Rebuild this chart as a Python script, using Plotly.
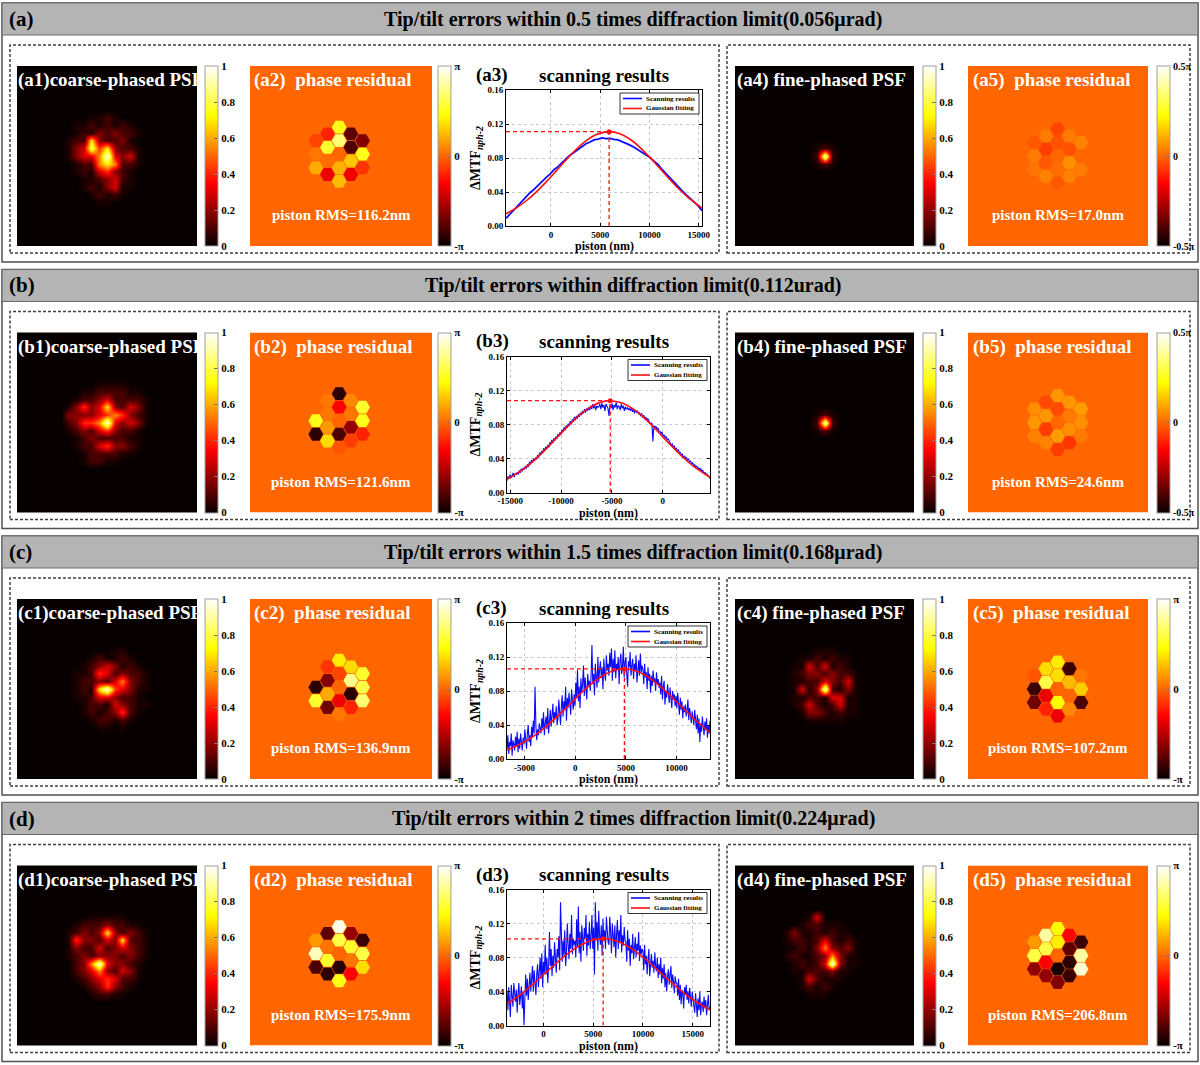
import numpy as np
import plotly.graph_objects as go
from plotly.colors import sample_colorscale

W, H = 1200, 1065
SERIF = "Liberation Serif"
HOT = [[0.0, "rgb(6,0,0)"], [0.35, "rgb(255,0,0)"], [0.725, "rgb(255,255,0)"], [1.0, "rgb(255,255,255)"]]

# ---------------- text data ----------------
row_letters = ["a", "b", "c", "d"]
row_titles = [
    "Tip/tilt errors within 0.5 times diffraction limit(0.056\u03bcrad)",
    "Tip/tilt errors within diffraction limit(0.112urad)",
    "Tip/tilt errors within 1.5 times diffraction limit(0.168\u03bcrad)",
    "Tip/tilt errors within 2 times diffraction limit(0.224\u03bcrad)",
]
rms_coarse = ["116.2", "121.6", "136.9", "175.9"]
rms_fine = ["17.0", "24.6", "107.2", "206.8"]
coarse_phase_limit = [1.0, 1.0, 1.0, 1.0]   # units of pi
fine_phase_limit = [0.5, 0.5, 1.0, 1.0]     # units of pi
psf_ticks = [0, 0.2, 0.4, 0.6, 0.8, 1]
psf_tick_text = ["0", "0.2", "0.4", "0.6", "0.8", "1"]
legend_names = ["Scanning results", "Gaussian fitting"]

# ---------------- segment layout (18 hexagonal segments) ----------------
seg_col = [-2, -2, -2, -1, -1, -1, -1, 0, 0, 0, 0, 1, 1, 1, 1, 2, 2, 2]
seg_row = [-1, 0, 1, -1.5, -0.5, 0.5, 1.5, -2, -1, 1, 2, -1.5, -0.5, 0.5, 1.5, -1, 0, 1]

# phase residual per segment (units of pi)
phase_a2 = [-0.10, 0.05, 0.20, -0.20, 0.55, 0.02, -0.35, 0.50, 0.70, 0.22, 0.25, -0.75, -0.80, 0.28, -0.35, -0.65, 0.50, -0.15]
phase_a5 = [-0.02, 0.03, 0.02, 0.03, -0.06, -0.02, 0.04, -0.05, -0.03, 0.01, -0.02, 0.03, -0.03, 0.06, 0.04, 0.04, 0.00, 0.03]
phase_b2 = [0.00, 0.50, -0.90, 0.05, 0.05, 0.15, 0.35, -0.90, -0.30, -0.80, -0.05, 0.10, 0.05, -0.60, -0.12, 0.55, 0.50, -0.20]
phase_b5 = [0.06, 0.07, 0.04, -0.04, 0.07, -0.06, 0.04, 0.07, -0.04, 0.08, -0.06, 0.07, 0.03, 0.06, -0.07, 0.08, 0.06, 0.03]
phase_c2 = [0.00, -0.90, 0.55, -0.15, -0.65, 0.20, -0.70, 0.40, -0.10, -0.35, 0.05, 0.35, 0.75, -0.90, -0.20, 0.55, 0.60, 0.70]
phase_c5 = [-0.05, -0.85, -0.70, 0.35, 0.60, -0.35, -0.20, 0.40, 0.35, 0.45, -0.35, -0.85, 0.25, 0.00, 0.10, 0.05, 0.30, -0.80]
phase_d2 = [0.15, 0.85, -0.80, -0.75, 0.05, 0.55, -0.90, 0.95, 0.60, -0.90, 0.50, -0.60, 0.55, 0.05, -0.30, -0.85, 0.60, 0.35]
phase_d5 = [0.15, 0.60, -0.60, 0.80, 0.60, -0.30, -0.60, 0.45, 0.40, -0.95, -0.65, -0.30, -0.75, -0.90, -0.85, -0.85, 0.80, 0.90]
phase_coarse = [phase_a2, phase_b2, phase_c2, phase_d2]
phase_fine = [phase_a5, phase_b5, phase_c5, phase_d5]

# ---------------- PSF intensity read on a coarse grid (digit = level index) ----------------
psf_levels = [0.0, 0.03, 0.09, 0.18, 0.30, 0.42, 0.55, 0.70, 0.85, 1.0]
Z15 = "000000000000000"
psf_a1 = [Z15, Z15, "000001121000000", "000112121210000", "000121323221000", "001227322310000",
          "001348573221000", "001344694341000", "000122676221000", "000121453210000", "000011234210000",
          "000012134110000", "000001212100000", "000000110000000", Z15]
psf_a4 = [Z15, Z15, Z15, Z15, Z15, Z15, "000000121000000", "000000292000000", "000000121000000",
          Z15, Z15, Z15, Z15, Z15, Z15]
psf_b1 = [Z15, Z15, "000000111100000", "000011222211000", "000122342222100", "001353473243100",
          "003333456532100", "002355694343100", "001232453221000", "000123222211000", "000122453321000",
          "000012222110000", "000012211000000", Z15, Z15]
psf_b4 = [Z15, Z15, Z15, Z15, Z15, Z15, "000000121000000", "000000292000000", "000000121000000",
          Z15, Z15, Z15, Z15, Z15, Z15]
psf_c1 = [Z15, Z15, "000000001100000", "000001211210000", "000012343121000", "000112542322100",
          "000122324632100", "000121795431100", "000112443221000", "000012214321100", "000012123521000",
          "000001221210000", "000000110100000", Z15, Z15]
psf_c4 = [Z15, Z15, "000000111000000", "000011212110000", "000114241210000", "000123323221000",
          "000112243241000", "000141392131000", "000112214411000", "000124212411000", "000013321211000",
          "000001111100000", Z15, Z15, Z15]
psf_d1 = [Z15, Z15, "000001111100000", "000122232211000", "001232373232100", "001533243722100",
          "001322423432100", "001232333232100", "000236943321000", "000234632431000", "000123454221000",
          "000012353210000", "000001221100000", Z15, Z15]
psf_d4 = [Z15, Z15, "000001400000000", "000012211100000", "001311212110000", "001221242121000",
          "000121363231000", "001211236311000", "000121249311000", "000112223110000", "000014211100000",
          "000012121000000", "000001110000000", Z15, Z15]
psf_coarse = [psf_a1, psf_b1, psf_c1, psf_d1]
psf_fine = [psf_a4, psf_b4, psf_c4, psf_d4]

# ---------------- scanning results ----------------
scan_start = [-4560, -15320, -6720, -3660]
scan_end = [15340, 4640, 13290, 16740]
xtick_vals = [[0, 5000, 10000, 15000], [-15000, -10000, -5000, 0], [-5000, 0, 5000, 10000], [0, 5000, 10000, 15000]]
xtick_text = [["0", "5000", "10000", "15000"], ["-15000", "-10000", "-5000", "0"],
              ["-5000", "0", "5000", "10000"], ["0", "5000", "10000", "15000"]]
ytick_vals = [0, 0.04, 0.08, 0.12, 0.16]

blue_a = [0.0090, 0.0140, 0.0196, 0.0248, 0.0302, 0.0344, 0.0392, 0.0430, 0.0480, 0.0522,
          0.0570, 0.0610, 0.0662, 0.0698, 0.0748, 0.0788, 0.0832, 0.0866, 0.0902, 0.0933,
          0.0967, 0.0988, 0.1012, 0.1022, 0.1037, 0.1028, 0.1030, 0.1020, 0.1012, 0.0993,
          0.0977, 0.0952, 0.0927, 0.0896, 0.0868, 0.0831, 0.0806, 0.0763, 0.0724, 0.0665,
          0.0614, 0.0558, 0.0512, 0.0460, 0.0417, 0.0368, 0.0327, 0.0280, 0.0240, 0.0180]
blue_b = [0.014, 0.019, 0.016, 0.021, 0.017, 0.020, 0.023, 0.018, 0.022, 0.021,
          0.024, 0.021, 0.026, 0.023, 0.028, 0.025, 0.029, 0.027, 0.031, 0.028,
          0.033, 0.030, 0.036, 0.033, 0.038, 0.035, 0.040, 0.037, 0.041, 0.039,
          0.044, 0.041, 0.047, 0.044, 0.049, 0.046, 0.052, 0.049, 0.054, 0.051,
          0.056, 0.053, 0.059, 0.057, 0.062, 0.058, 0.064, 0.061, 0.066, 0.063,
          0.069, 0.066, 0.071, 0.068, 0.074, 0.071, 0.077, 0.073, 0.079, 0.076,
          0.081, 0.078, 0.084, 0.080, 0.086, 0.083, 0.089, 0.085, 0.090, 0.087,
          0.092, 0.089, 0.094, 0.091, 0.096, 0.093, 0.098, 0.094, 0.099, 0.096,
          0.100, 0.097, 0.102, 0.098, 0.104, 0.099, 0.103, 0.097, 0.102, 0.100,
          0.101, 0.104, 0.098, 0.105, 0.100, 0.103, 0.096, 0.104, 0.101, 0.099,
          0.090, 0.104, 0.099, 0.105, 0.097, 0.103, 0.100, 0.106, 0.098, 0.102,
          0.101, 0.097, 0.104, 0.099, 0.102, 0.096, 0.101, 0.098, 0.100, 0.097,
          0.099, 0.096, 0.100, 0.095, 0.098, 0.093, 0.097, 0.094, 0.096, 0.092,
          0.094, 0.090, 0.093, 0.088, 0.091, 0.086, 0.089, 0.085, 0.087, 0.084,
          0.083, 0.080, 0.082, 0.060, 0.079, 0.076, 0.078, 0.074, 0.076, 0.072,
          0.072, 0.069, 0.071, 0.066, 0.068, 0.064, 0.066, 0.062, 0.063, 0.060,
          0.059, 0.056, 0.057, 0.053, 0.055, 0.051, 0.052, 0.049, 0.050, 0.047,
          0.047, 0.044, 0.045, 0.041, 0.043, 0.040, 0.041, 0.038, 0.039, 0.036,
          0.037, 0.034, 0.035, 0.031, 0.033, 0.030, 0.031, 0.028, 0.029, 0.027,
          0.028, 0.025, 0.026, 0.022, 0.024, 0.021, 0.022, 0.019, 0.019, 0.016]
blue_c = [0.012, 0.028, 0.006, 0.020, 0.015, 0.030, 0.004, 0.022, 0.018, 0.010,
          0.026, 0.015, 0.032, 0.008, 0.024, 0.012, 0.030, 0.020, 0.010, 0.025,
          0.018, 0.035, 0.022, 0.012, 0.030, 0.040, 0.020, 0.028, 0.015, 0.038,
          0.025, 0.045, 0.030, 0.085, 0.040, 0.022, 0.035, 0.028, 0.042, 0.032,
          0.030, 0.048, 0.036, 0.055, 0.028, 0.042, 0.050, 0.035, 0.060, 0.030,
          0.045, 0.058, 0.038, 0.052, 0.065, 0.042, 0.055, 0.048, 0.062, 0.040,
          0.048, 0.070, 0.055, 0.040, 0.062, 0.075, 0.050, 0.068, 0.058, 0.085,
          0.045, 0.072, 0.060, 0.078, 0.066, 0.052, 0.082, 0.070, 0.058, 0.076,
          0.062, 0.090, 0.072, 0.105, 0.068, 0.085, 0.060, 0.095, 0.078, 0.088,
          0.110, 0.074, 0.096, 0.082, 0.070, 0.100, 0.086, 0.092, 0.080, 0.098,
          0.134, 0.088, 0.100, 0.075, 0.112, 0.096, 0.084, 0.120, 0.090, 0.105,
          0.115, 0.095, 0.108, 0.082, 0.118, 0.100, 0.092, 0.122, 0.104, 0.112,
          0.098, 0.125, 0.108, 0.130, 0.092, 0.118, 0.102, 0.128, 0.095, 0.112,
          0.106, 0.120, 0.088, 0.115, 0.124, 0.100, 0.110, 0.132, 0.096, 0.114,
          0.120, 0.100, 0.085, 0.115, 0.108, 0.126, 0.098, 0.110, 0.118, 0.094,
          0.112, 0.104, 0.122, 0.090, 0.108, 0.116, 0.098, 0.124, 0.102, 0.110,
          0.105, 0.088, 0.112, 0.096, 0.102, 0.082, 0.108, 0.092, 0.100, 0.078,
          0.098, 0.086, 0.104, 0.090, 0.095, 0.080, 0.102, 0.088, 0.094, 0.084,
          0.090, 0.076, 0.098, 0.070, 0.085, 0.092, 0.064, 0.080, 0.072, 0.088,
          0.078, 0.066, 0.084, 0.072, 0.060, 0.080, 0.070, 0.076, 0.062, 0.074,
          0.060, 0.078, 0.066, 0.052, 0.072, 0.058, 0.068, 0.048, 0.062, 0.055,
          0.064, 0.050, 0.058, 0.070, 0.046, 0.060, 0.052, 0.042, 0.056, 0.048,
          0.040, 0.058, 0.045, 0.035, 0.052, 0.030, 0.048, 0.020, 0.042, 0.032,
          0.050, 0.036, 0.028, 0.044, 0.034, 0.048, 0.025, 0.040, 0.030, 0.045]
blue_d = [0.040, 0.018, 0.045, 0.025, 0.010, 0.048, 0.030, 0.022, 0.050, 0.035,
          0.028, 0.042, 0.015, 0.038, 0.050, 0.024, 0.034, 0.046, 0.020, 0.040,
          0.000, 0.045, 0.060, 0.035, 0.055, 0.030, 0.048, 0.062, 0.040, 0.052,
          0.070, 0.040, 0.065, 0.050, 0.036, 0.060, 0.072, 0.045, 0.058, 0.080,
          0.055, 0.085, 0.045, 0.075, 0.062, 0.095, 0.060, 0.080, 0.050, 0.070,
          0.110, 0.070, 0.090, 0.058, 0.082, 0.068, 0.098, 0.076, 0.062, 0.090,
          0.080, 0.105, 0.065, 0.145, 0.090, 0.075, 0.100, 0.082, 0.112, 0.070,
          0.085, 0.120, 0.095, 0.078, 0.108, 0.090, 0.130, 0.084, 0.102, 0.095,
          0.100, 0.080, 0.125, 0.092, 0.140, 0.085, 0.110, 0.075, 0.118, 0.098,
          0.088, 0.115, 0.102, 0.130, 0.082, 0.108, 0.094, 0.122, 0.090, 0.104,
          0.130, 0.090, 0.115, 0.060, 0.145, 0.100, 0.122, 0.088, 0.135, 0.105,
          0.095, 0.118, 0.082, 0.126, 0.100, 0.112, 0.090, 0.128, 0.104, 0.098,
          0.095, 0.128, 0.110, 0.085, 0.120, 0.100, 0.092, 0.118, 0.080, 0.108,
          0.124, 0.090, 0.112, 0.098, 0.130, 0.086, 0.106, 0.094, 0.116, 0.100,
          0.098, 0.075, 0.112, 0.088, 0.102, 0.070, 0.095, 0.085, 0.108, 0.078,
          0.092, 0.104, 0.080, 0.096, 0.088, 0.110, 0.076, 0.094, 0.084, 0.090,
          0.088, 0.065, 0.095, 0.072, 0.082, 0.060, 0.078, 0.090, 0.058, 0.075,
          0.084, 0.068, 0.076, 0.062, 0.086, 0.070, 0.064, 0.080, 0.056, 0.072,
          0.060, 0.080, 0.050, 0.068, 0.055, 0.072, 0.045, 0.062, 0.040, 0.058,
          0.066, 0.048, 0.056, 0.070, 0.044, 0.060, 0.052, 0.038, 0.058, 0.050,
          0.050, 0.035, 0.055, 0.030, 0.048, 0.025, 0.042, 0.038, 0.020, 0.045,
          0.036, 0.048, 0.030, 0.040, 0.026, 0.044, 0.034, 0.022, 0.040, 0.032,
          0.030, 0.015, 0.038, 0.022, 0.010, 0.032, 0.018, 0.040, 0.012, 0.025,
          0.028, 0.016, 0.034, 0.020, 0.030, 0.012, 0.026, 0.036, 0.018, 0.022]
blue_all = [blue_a, blue_b, blue_c, blue_d]

fit_x_a = [-4560, -3500, -2500, -1500, -500, 500, 1500, 2500, 3500, 4500, 5910, 7000, 8000, 9000, 10000, 11000, 12000, 13000, 14000, 15340]
fit_y_a = [0.0144, 0.0213, 0.0297, 0.0399, 0.0516, 0.0643, 0.0773, 0.0894, 0.0996, 0.1070, 0.1110, 0.1086, 0.1023, 0.0929, 0.0813, 0.0685, 0.0556, 0.0435, 0.0328, 0.0212]
fit_x_b = [-15320, -14000, -13000, -12000, -11000, -10000, -9000, -8000, -7000, -6000, -5170, -4000, -3000, -2000, -1000, 0, 1000, 2000, 3000, 4640]
fit_y_b = [0.0157, 0.0251, 0.0343, 0.0451, 0.0572, 0.0698, 0.0821, 0.0930, 0.1014, 0.1066, 0.1080, 0.1053, 0.0989, 0.0895, 0.0780, 0.0655, 0.0530, 0.0413, 0.0310, 0.0179]
fit_x_c = [-6720, -6000, -5000, -4000, -3000, -2000, -1000, 0, 1000, 2000, 3000, 4000, 4850, 6000, 7000, 8000, 9000, 10000, 11000, 12000, 13290]
fit_y_c = [0.0107, 0.0141, 0.0201, 0.0277, 0.0368, 0.0474, 0.0589, 0.0708, 0.0822, 0.0922, 0.1000, 0.1047, 0.1060, 0.1036, 0.0979, 0.0894, 0.0789, 0.0673, 0.0554, 0.0441, 0.0312]
fit_x_d = [-3660, -3000, -2000, -1000, 0, 1000, 2000, 3000, 4000, 5000, 6000, 7000, 8000, 9000, 10000, 11000, 12000, 13000, 14000, 15000, 16740]
fit_y_d = [0.0255, 0.0306, 0.0394, 0.0492, 0.0597, 0.0703, 0.0804, 0.0892, 0.0961, 0.1005, 0.1020, 0.1005, 0.0961, 0.0892, 0.0804, 0.0703, 0.0597, 0.0492, 0.0394, 0.0306, 0.0184]
fit_x_all = [fit_x_a, fit_x_b, fit_x_c, fit_x_d]
fit_y_all = [fit_y_a, fit_y_b, fit_y_c, fit_y_d]
peak_x = [5910, -5170, 4850, 6000]
peak_y = [0.111, 0.108, 0.106, 0.102]

BLUE, RED = "#0a0aff", "#ff1010"

# ---------------- helpers ----------------
fig = go.Figure()
layout_axes = {}
shapes = []
annotations = []
ax_count = [0]


def P(x):
    return x / W


def Q(y):
    return 1 - y / H


def add_axes(x0, x1, y0, y1, xcfg=None, ycfg=None):
    ax_count[0] += 1
    n = ax_count[0]
    s = "" if n == 1 else str(n)
    base = dict(showgrid=False, zeroline=False, showticklabels=False, ticks="",
                fixedrange=True, automargin=False)
    xc = dict(base, domain=[P(x0), P(x1)], anchor="y" + s)
    yc = dict(base, domain=[Q(y1), Q(y0)], anchor="x" + s)
    if xcfg:
        xc.update(xcfg)
    if ycfg:
        yc.update(ycfg)
    layout_axes["xaxis" + s] = xc
    layout_axes["yaxis" + s] = yc
    return "x" + s, "y" + s


def colorbar(xleft, ycenter, tickvals, ticktext, size=11):
    return dict(x=P(xleft), xanchor="left", y=Q(ycenter), yanchor="middle",
                len=180, lenmode="pixels", thickness=13, thicknessmode="pixels",
                xpad=0, ypad=0, outlinewidth=1, outlinecolor="#a0a0a0",
                tickvals=tickvals, ticktext=ticktext, ticks="inside", ticklen=4,
                tickcolor="#777777", tickwidth=1,
                tickfont=dict(family=SERIF, size=size, color="black", weight="bold"))


def text(x, y, s, size, color="black", xanchor="left", angle=0):
    annotations.append(dict(x=P(x), y=Q(y), xref="paper", yref="paper", text=s,
                            showarrow=False, xanchor=xanchor, yanchor="middle", textangle=angle,
                            font=dict(family=SERIF, size=size, color=color, weight="bold")))


def add_psf(grid, x0, x1, y0, y1, cbx):
    xa, ya = add_axes(x0, x1, y0, y1, dict(range=[0, 1]), dict(range=[1, 0]))
    shapes.append(dict(type="rect", xref="paper", yref="paper", x0=P(x0), x1=P(x1),
                       y0=Q(y1), y1=Q(y0), fillcolor="rgb(6,0,0)", line=dict(width=0), layer="below"))
    z = [[psf_levels[int(ch)] for ch in row] for row in grid]
    n = len(grid)
    coords = [0.2 + 0.6 * i / (n - 1) for i in range(n)]
    fig.add_trace(go.Heatmap(z=z, x=coords, y=coords, xaxis=xa, yaxis=ya, colorscale=HOT,
                             zmin=0, zmax=1, zsmooth="best", showscale=True,
                             colorbar=colorbar(cbx, (y0 + y1) / 2, psf_ticks, psf_tick_text),
                             hoverinfo="skip"))


HEX_R = 7.8
ANG = np.deg2rad(np.arange(0, 361, 60))


def add_phase(values, lim, x0, x1, y0, y1, cbx, cxf, cyf):
    xa, ya = add_axes(x0, x1, y0, y1, dict(range=[0, 1]), dict(range=[1, 0]))
    if lim == 1.0:
        tt = ["-\u03c0", "0", "\u03c0"]
        fs = 11
    else:
        tt = ["-0.5\u03c0", "0", "0.5\u03c0"]
        fs = 10
    fig.add_trace(go.Heatmap(z=[[0.0]], x0=0.5, dx=1, y0=0.5, dy=1, xaxis=xa, yaxis=ya,
                             colorscale=HOT, zmin=-lim, zmax=lim, showscale=True,
                             colorbar=colorbar(cbx, (y0 + y1) / 2, [-lim, 0, lim], tt, fs),
                             hoverinfo="skip"))
    rx = HEX_R / (x1 - x0)
    ry = HEX_R / (y1 - y0)
    for c, r, v in zip(seg_col, seg_row, values):
        cx = cxf + c * 1.5 * rx
        cy = cyf + r * np.sqrt(3) * ry
        col = sample_colorscale(HOT, [(v + lim) / (2 * lim)])[0]
        xs = list(cx + 0.95 * rx * np.cos(ANG))
        ys = list(cy + 0.95 * ry * np.sin(ANG))
        fig.add_trace(go.Scatter(x=xs, y=ys, mode="lines", fill="toself", fillcolor=col,
                                 line=dict(width=0, color=col), xaxis=xa, yaxis=ya,
                                 showlegend=False, hoverinfo="skip"))


def add_scan(i, x0, x1, y0, y1):
    tickfont = dict(family=SERIF, size=9, color="black", weight="bold")
    common = dict(showticklabels=True, ticks="inside", ticklen=3, tickwidth=1, tickcolor="black",
                  showline=True, linecolor="black", linewidth=1, mirror="ticks",
                  showgrid=True, gridcolor="#c8c8c8", griddash="dot", gridwidth=1,
                  tickfont=tickfont)
    xcfg = dict(common, range=[scan_start[i], scan_end[i]], tickvals=xtick_vals[i], ticktext=xtick_text[i])
    ycfg = dict(common, range=[0, 0.16], tickvals=ytick_vals, tickformat=".2f")
    xa, ya = add_axes(x0, x1, y0, y1, xcfg, ycfg)
    bx = np.linspace(scan_start[i], scan_end[i], len(blue_all[i]))
    fig.add_trace(go.Scatter(x=bx, y=blue_all[i], mode="lines", name=legend_names[0],
                             line=dict(color=BLUE, width=1.8 if i == 0 else 1.1),
                             xaxis=xa, yaxis=ya, showlegend=False, hoverinfo="skip"))
    fig.add_trace(go.Scatter(x=fit_x_all[i], y=fit_y_all[i], mode="lines", name=legend_names[1],
                             line=dict(color=RED, width=1.6, shape="spline", smoothing=1.0),
                             xaxis=xa, yaxis=ya, showlegend=False, hoverinfo="skip"))
    fig.add_trace(go.Scatter(x=[scan_start[i], peak_x[i]], y=[peak_y[i], peak_y[i]], mode="lines",
                             line=dict(color=RED, width=1.3, dash="4px,3px"),
                             xaxis=xa, yaxis=ya, showlegend=False, hoverinfo="skip"))
    fig.add_trace(go.Scatter(x=[peak_x[i], peak_x[i]], y=[0, peak_y[i]], mode="lines",
                             line=dict(color=RED, width=1.3, dash="4px,3px"),
                             xaxis=xa, yaxis=ya, showlegend=False, hoverinfo="skip"))
    fig.add_trace(go.Scatter(x=[peak_x[i]], y=[peak_y[i]], mode="markers",
                             marker=dict(color=RED, size=5),
                             xaxis=xa, yaxis=ya, showlegend=False, hoverinfo="skip"))
    # axis titles
    text((x0 + x1) / 2, y1 + 20, "piston (nm)", 12, xanchor="center")
    text(476, (y0 + y1) / 2, "\u0394MTF<sub><i>nph-2</i></sub>", 14, xanchor="center", angle=-90)
    # legend box (top right, inside the axes)
    lx1, lx0 = x1 - 3, x1 - 82
    ly0, ly1 = y0 + 3, y0 + 24
    shapes.append(dict(type="rect", xref="paper", yref="paper", x0=P(lx0), x1=P(lx1),
                       y0=Q(ly1), y1=Q(ly0), fillcolor="white", line=dict(color="black", width=0.8)))
    for k, (nm, colr) in enumerate(zip(legend_names, [BLUE, RED])):
        yy = ly0 + 5.5 + 10 * k
        shapes.append(dict(type="line", xref="paper", yref="paper", x0=P(lx0 + 3), x1=P(lx0 + 22),
                           y0=Q(yy), y1=Q(yy), line=dict(color=colr, width=1.6)))
        text(lx0 + 24, yy, nm, 7)


# ---------------- build rows ----------------
ROW_PITCH = 266.5
for i, L in enumerate(row_letters):
    y0 = 3 + ROW_PITCH * i
    shapes.append(dict(type="rect", xref="paper", yref="paper", x0=P(2), x1=P(1198),
                       y0=Q(y0 + 259), y1=Q(y0), line=dict(color="#505050", width=1.5),
                       fillcolor="rgba(0,0,0,0)", layer="below"))
    shapes.append(dict(type="rect", xref="paper", yref="paper", x0=P(2), x1=P(1198),
                       y0=Q(y0 + 32), y1=Q(y0), line=dict(color="#6a6a6a", width=1.2),
                       fillcolor="#b4b4b4", layer="below"))
    for bx0, bx1 in [(10, 719), (727, 1190)]:
        shapes.append(dict(type="rect", xref="paper", yref="paper", x0=P(bx0), x1=P(bx1),
                           y0=Q(y0 + 250), y1=Q(y0 + 42),
                           line=dict(color="#404040", width=1.5, dash="3px,2px"),
                           fillcolor="rgba(0,0,0,0)", layer="below"))
    text(7, y0 + 16, "(%s)" % L, 21)
    text(633, y0 + 16, row_titles[i], 20, xanchor="center")

    iy0, iy1 = y0 + 63, y0 + 243
    add_psf(psf_coarse[i], 17, 197, iy0, iy1, 205)
    add_phase(phase_coarse[i], coarse_phase_limit[i], 250, 432, iy0, iy1, 438, 0.49, 0.49)
    add_scan(i, 506 if i == 0 else 507, 702 if i == 0 else 710, y0 + 87, y0 + 223)
    add_psf(psf_fine[i], 735, 914, iy0, iy1, 923)
    add_phase(phase_fine[i], fine_phase_limit[i], 968, 1148, iy0, iy1, 1157, 0.498, 0.5)

    text(16, y0 + 77, "(%s1)coarse-phased PSF" % L, 19, "white")
    text(252, y0 + 77, "(%s2)  phase residual" % L, 19, "white")
    text(735, y0 + 77, "(%s4) fine-phased PSF" % L, 19, "white")
    text(971, y0 + 77, "(%s5)  phase residual" % L, 19, "white")
    text(341, y0 + 212, "piston RMS=%snm" % rms_coarse[i], 15, "white", "center")
    text(1058, y0 + 212, "piston RMS=%snm" % rms_fine[i], 15, "white", "center")
    text(474, y0 + 72, "(%s3)" % L, 19)
    text(604, y0 + 72, "scanning results", 19, xanchor="center")

fig.update_layout(
    width=W, height=H, margin=dict(l=0, r=0, t=0, b=0, pad=0),
    paper_bgcolor="white", plot_bgcolor="rgba(0,0,0,0)", showlegend=False,
    shapes=shapes, annotations=annotations, **layout_axes,
)
fig.write_html("out.html", config={"displayModeBar": False},
               post_script="document.body.style.margin='0';document.body.style.overflow='hidden';")
